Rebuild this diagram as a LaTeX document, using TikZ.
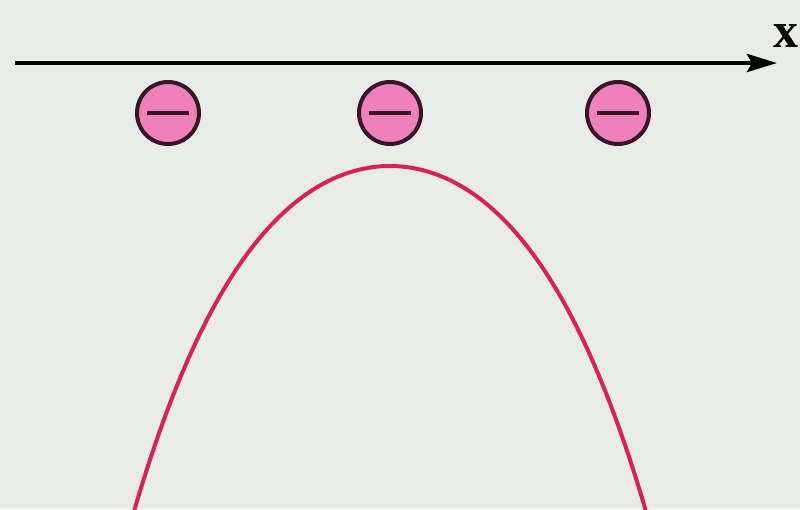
\documentclass[tikz,border=0pt]{standalone}
\usepackage{fontspec}
\setmainfont{Liberation Serif}
\usetikzlibrary{arrows.meta}
\definecolor{bg}{RGB}{233,236,230}
\definecolor{curvecol}{RGB}{214,34,92}
\definecolor{ionfill}{RGB}{238,128,188}
\definecolor{ionedge}{RGB}{55,20,40}
\tikzset{
  axisline/.style={line width=4.5pt, draw=black, -{Stealth[length=30pt,width=18pt,inset=5pt]}},
  ion/.style={circle, minimum size=62pt, inner sep=0pt, fill=ionfill, draw=ionedge, line width=4pt},
  minusbar/.style={line width=4.5pt, draw=ionedge},
  fieldcurve/.style={line width=4pt, draw=curvecol}
}
\begin{document}
\begin{tikzpicture}[x=1pt,y=-1pt]
\fill[bg] (0,0) rectangle (800,509);
\useasboundingbox (0,0) rectangle (800,509);
\coordinate (axstart) at (15,63);
\coordinate (axend) at (777,63);
\draw[axisline] (axstart) -- (axend);
\node[anchor=base west, inner sep=0pt, font=\fontsize{50}{50}\selectfont\bfseries] (xlabel) at (773,47) {x};
\foreach \n/\cx in {a/168, b/390, c/618} {
  \node[ion] (ion\n) at (\cx,113) {};
  \draw[minusbar] ([xshift=-21pt]ion\n.center) -- ([xshift=21pt]ion\n.center);
}
\begin{scope}
\clip (0,0) rectangle (800,509);
\draw[fieldcurve] plot[domain=-2.62:2.62, samples=121, smooth, variable=\u]
  ({390+100*\u}, {166+38.74*\u*\u+2.13*\u*\u*\u*\u});
\end{scope}
\end{tikzpicture}
\end{document}
